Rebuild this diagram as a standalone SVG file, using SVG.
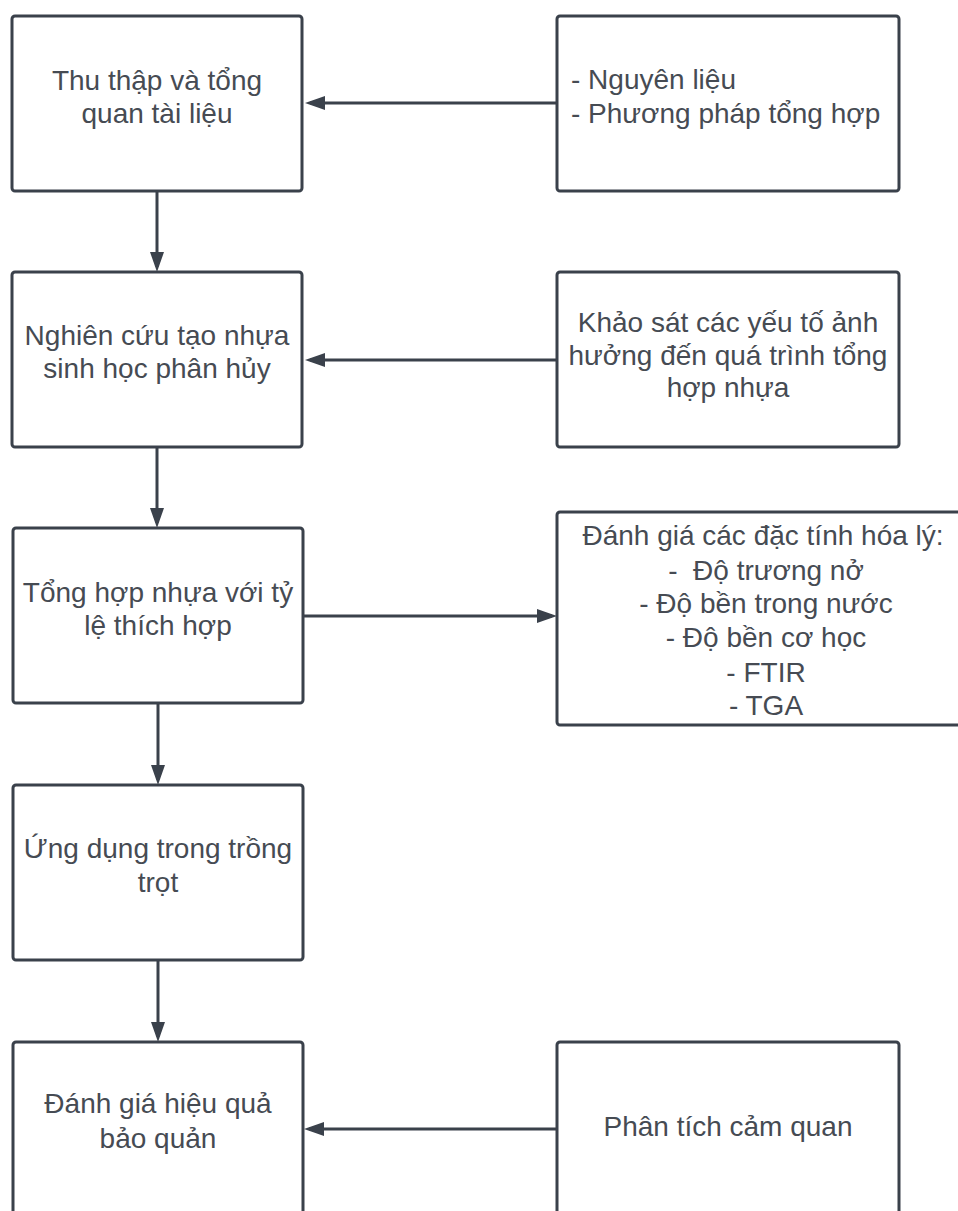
<svg xmlns="http://www.w3.org/2000/svg" width="958" height="1211" viewBox="0 0 958 1211">
<style>
.box{fill:#ffffff;stroke:#3a414b;stroke-width:3}
.t{font-family:"Liberation Sans",Arial,sans-serif;font-size:28px;fill:#464b53;text-anchor:middle}
.tl{font-family:"Liberation Sans",Arial,sans-serif;font-size:28px;fill:#464b53}
.c{stroke:#3a414b;stroke-width:3;fill:none}
</style>
<defs>
<marker id="ah" markerUnits="userSpaceOnUse" markerWidth="20" markerHeight="14" refX="15" refY="7" orient="auto">
<path d="M0,0 L20,7 L0,14 z" fill="#3a414b"/>
</marker>
</defs>
<rect width="958" height="1211" fill="#ffffff"/>
<g id="connectors">
<line class="c" x1="557" y1="103" x2="310" y2="103" marker-end="url(#ah)"/>
<line class="c" x1="157" y1="191" x2="157" y2="267" marker-end="url(#ah)"/>
<line class="c" x1="557" y1="360" x2="310" y2="360" marker-end="url(#ah)"/>
<line class="c" x1="157" y1="447" x2="157" y2="523" marker-end="url(#ah)"/>
<line class="c" x1="303" y1="616" x2="552" y2="616" marker-end="url(#ah)"/>
<line class="c" x1="158" y1="703" x2="158" y2="780" marker-end="url(#ah)"/>
<line class="c" x1="158" y1="960" x2="158" y2="1037" marker-end="url(#ah)"/>
<line class="c" x1="557" y1="1129" x2="309" y2="1129" marker-end="url(#ah)"/>
</g>
<g id="n1">
<rect class="box" x="12" y="16" width="290" height="175" rx="3"/>
<text class="t" x="157" y="90">Thu thập và tổng</text>
<text class="t" x="157" y="123">quan tài liệu</text>
</g>
<g id="n1r">
<rect class="box" x="557" y="16" width="342" height="175" rx="3"/>
<text class="tl" x="571" y="89">- Nguyên liệu</text>
<text class="tl" x="571" y="123">- Phương pháp tổng hợp</text>
</g>
<g id="n2">
<rect class="box" x="12" y="272" width="290" height="175" rx="3"/>
<text class="t" x="157" y="345">Nghiên cứu tạo nhựa</text>
<text class="t" x="157" y="378">sinh học phân hủy</text>
</g>
<g id="n2r">
<rect class="box" x="557" y="272" width="342" height="175" rx="3"/>
<text class="t" x="728" y="332">Khảo sát các yếu tố ảnh</text>
<text class="t" x="728" y="365">hưởng đến quá trình tổng</text>
<text class="t" x="728" y="397">hợp nhựa</text>
</g>
<g id="n3">
<rect class="box" x="13" y="528" width="290" height="175" rx="3"/>
<text class="t" x="158" y="602">Tổng hợp nhựa với tỷ</text>
<text class="t" x="158" y="635">lệ thích hợp</text>
</g>
<g id="n3r">
<rect class="box" x="557" y="512" width="420" height="213" rx="3"/>
<text class="t" x="763" y="545">Đánh giá các đặc tính hóa lý:</text>
<text class="t" x="766" y="580" xml:space="preserve">-  Độ trương nở</text>
<text class="t" x="766" y="613">- Độ bền trong nước</text>
<text class="t" x="766" y="647">- Độ bền cơ học</text>
<text class="t" x="766" y="682">- FTIR</text>
<text class="t" x="766" y="715">- TGA</text>
</g>
<g id="n4">
<rect class="box" x="13" y="785" width="290" height="175" rx="3"/>
<text class="t" x="158" y="858">Ứng dụng trong trồng</text>
<text class="t" x="158" y="892">trọt</text>
</g>
<g id="n5">
<rect class="box" x="13" y="1042" width="290" height="200" rx="3"/>
<text class="t" x="158" y="1113">Đánh giá hiệu quả</text>
<text class="t" x="158" y="1148">bảo quản</text>
</g>
<g id="n5r">
<rect class="box" x="557" y="1042" width="342" height="200" rx="3"/>
<text class="t" x="728" y="1136">Phân tích cảm quan</text>
</g>
</svg>
